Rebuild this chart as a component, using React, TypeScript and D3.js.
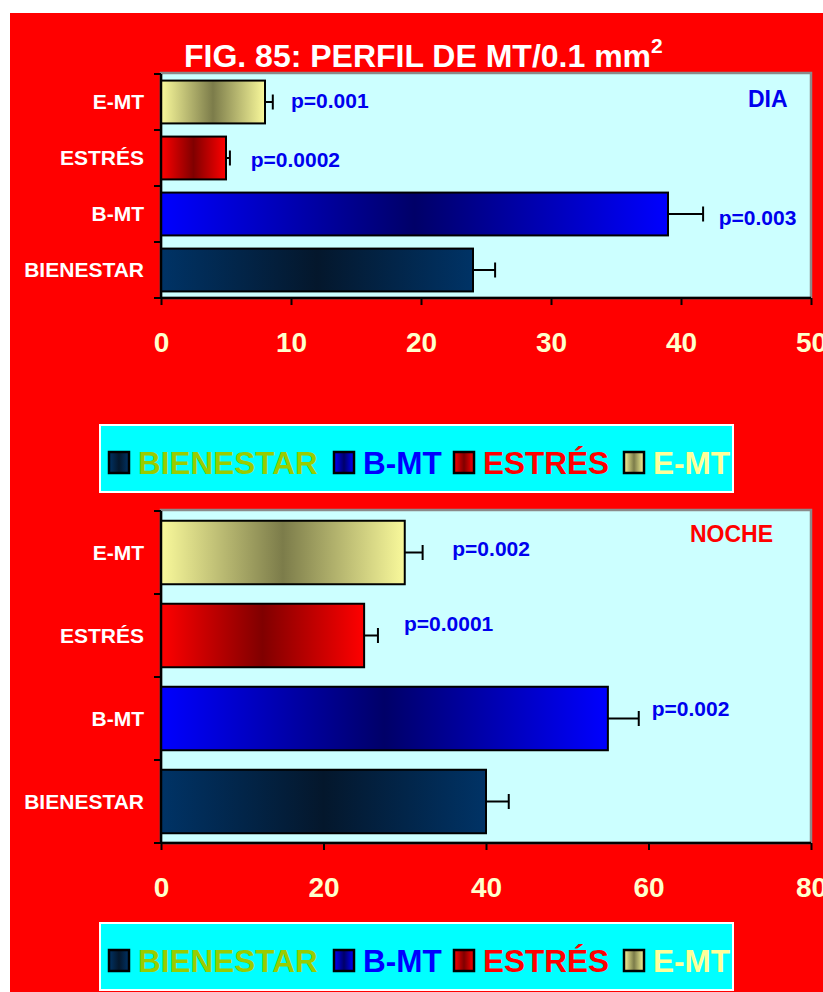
import React, { useEffect, useRef } from 'react';
import * as d3 from 'd3';

// ---------- data ----------
const categories = ['BIENESTAR', 'B-MT', 'ESTRÉS', 'E-MT'];
const diaValues = [24, 39, 5, 8];
const diaErrors = [1.7, 2.7, 0.3, 0.6];
const nocheValues = [40, 55, 25, 30];
const nocheErrors = [2.8, 3.8, 1.7, 2.2];
const diaTicks = [0, 10, 20, 30, 40, 50];
const nocheTicks = [0, 20, 40, 60, 80];
const diaPLabels = ['', 'p=0.003', 'p=0.0002', 'p=0.001'];
const nochePLabels = ['', 'p=0.002', 'p=0.0001', 'p=0.002'];
// label anchor positions in data units (x) and pixel offset from band centre (dy)
const diaPX = [0, 42.9, 6.9, 10];
const diaPDy = [0, 11, 9, 5.5];
const nochePX = [0, 60.4, 29.9, 35.85];
const nochePDy = [0, -3, -5, 3.5];
const titleText = 'FIG. 85: PERFIL DE MT/0.1 mm';

// ---------- style ----------
const FONT = '"Liberation Sans", Arial, Helvetica, sans-serif';
const gradStops: Record<string, [string, string]> = {
  'BIENESTAR': ['#003366', '#04172c'],
  'B-MT': ['#0000FF', '#000068'],
  'ESTRÉS': ['#FF0000', '#800000'],
  'E-MT': ['#F9F99B', '#7C7C4A'],
};
const legendTextColors = ['#99CC00', '#0000FF', '#FF0000', '#FFFF99'];
const legendItemX = [108, 333, 453, 623];
const X0 = 161;
const X1 = 811;
const gradId = (c: string) => 'g' + categories.indexOf(c);

type PanelProps = {
  values: number[];
  errors: number[];
  ticks: number[];
  y0: number;
  y1: number;
  pLabels: string[];
  pX: number[];
  pDy: number[];
  tag: string;
  tagColor: string;
  tagX: number;
  tagBaseline: number;
};

function Panel(p: PanelProps) {
  const x = d3.scaleLinear().domain([0, p.ticks[p.ticks.length - 1]]).range([X0, X1]);
  const order = [...categories].reverse();
  const y = d3.scaleBand<string>().domain(order).range([p.y0, p.y1]).paddingInner(0.235).paddingOuter(0.1175);
  const axisRef = useRef<SVGGElement>(null);

  useEffect(() => {
    if (!axisRef.current) return;
    const g = d3.select(axisRef.current);
    g.call(d3.axisBottom(x).tickValues(p.ticks).tickSize(7).tickPadding(47).tickFormat(d3.format('d')) as any);
    g.select('.domain').remove();
    g.selectAll('.tick line').attr('stroke', '#000').attr('stroke-width', 2);
    g.selectAll('.tick text')
      .attr('fill', '#FFFFCC')
      .attr('font-size', 28)
      .attr('font-weight', 'bold')
      .attr('font-family', FONT)
      .attr('dy', '0');
  });

  const step = y.step();
  const bounds = d3.range(categories.length + 1).map((i) => p.y0 + i * step);
  const bw = y.bandwidth();

  return (
    <g>
      <rect x={X0} y={p.y0 - 1} width={X1 - X0} height={p.y1 - p.y0 + 1} fill="#CCFFFF" stroke="#8a8a8a" strokeWidth={2.5} />
      <text x={p.tagX} y={p.tagBaseline} fill={p.tagColor} fontFamily={FONT} fontWeight="bold" fontSize={23}>
        {p.tag}
      </text>
      {categories.map((c, i) => {
        const yc = (y(c) as number) + bw / 2;
        return (
          <g key={c}>
            <rect
              x={x(0)}
              y={y(c)}
              width={x(p.values[i]) - x(0)}
              height={bw}
              fill={`url(#${gradId(c)})`}
              stroke="#000"
              strokeWidth={2}
            />
            <line x1={x(p.values[i])} x2={x(p.values[i] + p.errors[i])} y1={yc} y2={yc} stroke="#000" strokeWidth={2} />
            <line
              x1={x(p.values[i] + p.errors[i])}
              x2={x(p.values[i] + p.errors[i])}
              y1={yc - 7.5}
              y2={yc + 7.5}
              stroke="#000"
              strokeWidth={2}
            />
            <text
              x={144}
              y={yc + 7}
              textAnchor="end"
              fill="#FFFFFF"
              fontFamily={FONT}
              fontWeight="bold"
              fontSize={21}
            >
              {c}
            </text>
            {p.pLabels[i] ? (
              <text x={x(p.pX[i])} y={yc + p.pDy[i]} fill="#0000EE" fontFamily={FONT} fontWeight="bold" fontSize={21}>
                {p.pLabels[i]}
              </text>
            ) : null}
          </g>
        );
      })}
      {/* axis lines */}
      <line x1={X0} x2={X0} y1={p.y0} y2={p.y1} stroke="#000" strokeWidth={2.5} />
      <line x1={X0} x2={X1} y1={p.y1} y2={p.y1} stroke="#000" strokeWidth={2.5} />
      {bounds.map((b, i) => (
        <line key={i} x1={X0 - 7} x2={X0} y1={b} y2={b} stroke="#000" strokeWidth={2} />
      ))}
      <g ref={axisRef} transform={`translate(0,${p.y1})`} />
    </g>
  );
}

function Legend({ top }: { top: number }) {
  return (
    <g>
      <rect x={100} y={top} width={633} height={67} fill="#00FFFF" stroke="#FFFFFF" strokeWidth={2} />
      {categories.map((c, i) => (
        <g key={c}>
          <rect
            x={legendItemX[i] + 1}
            y={top + 27}
            width={20}
            height={21}
            fill={`url(#${gradId(c)})`}
            stroke="#000"
            strokeWidth={2.5}
          />
          <text
            x={legendItemX[i] + 30}
            y={top + 49}
            fill={legendTextColors[i]}
            fontFamily={FONT}
            fontWeight="bold"
            fontSize={31.5}
          >
            {c}
          </text>
        </g>
      ))}
    </g>
  );
}

export default function App() {
  return (
    <svg
      width={823}
      height={992}
      style={{ position: 'absolute', left: 0, top: 0, display: 'block', background: '#FFFFFF' }}
    >
      <defs>
        {categories.map((c) => (
          <linearGradient key={c} id={gradId(c)} x1="0" y1="0" x2="1" y2="0">
            <stop offset="0%" stopColor={gradStops[c][0]} />
            <stop offset="50%" stopColor={gradStops[c][1]} />
            <stop offset="100%" stopColor={gradStops[c][0]} />
          </linearGradient>
        ))}
      </defs>
      <rect x={10} y={13} width={813} height={979} fill="#FF0000" />
      <text x={184} y={66.5} fill="#FFFFFF" fontFamily={FONT} fontWeight="bold" fontSize={32}>
        {titleText}
        <tspan fontSize={21} dy={-13.5}>
          2
        </tspan>
      </text>
      <Panel
        values={diaValues}
        errors={diaErrors}
        ticks={diaTicks}
        y0={74}
        y1={298}
        pLabels={diaPLabels}
        pX={diaPX}
        pDy={diaPDy}
        tag="DIA"
        tagColor="#0000EE"
        tagX={748}
        tagBaseline={107}
      />
      <Legend top={425} />
      <Panel
        values={nocheValues}
        errors={nocheErrors}
        ticks={nocheTicks}
        y0={511}
        y1={843}
        pLabels={nochePLabels}
        pX={nochePX}
        pDy={nochePDy}
        tag="NOCHE"
        tagColor="#FF0000"
        tagX={690}
        tagBaseline={541.5}
      />
      <Legend top={923} />
    </svg>
  );
}
